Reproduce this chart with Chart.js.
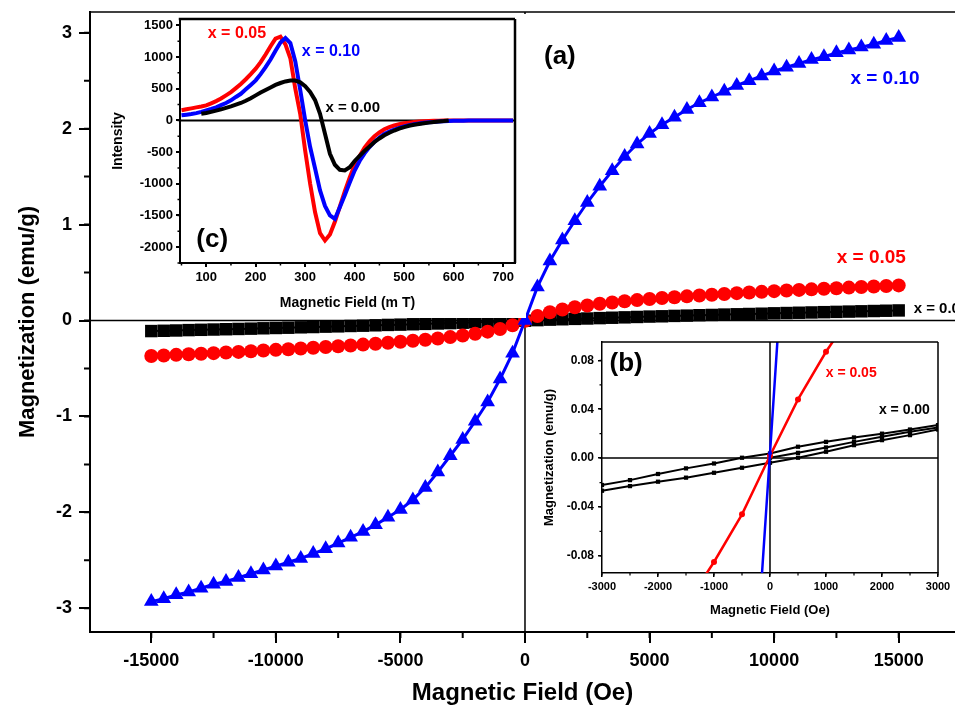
<!DOCTYPE html>
<html>
<head>
<meta charset="utf-8">
<script src="https://cdn.jsdelivr.net/npm/chart.js@4.4.1/dist/chart.umd.min.js"></script>
<style>
  html, body { margin: 0; padding: 0; background: #fff; overflow: hidden; }
  #wrap { position: relative; width: 955px; height: 710px; }
  canvas { position: absolute; }
  #mainChart { left: 0; top: 0; }
  #eprChart { left: 100px; top: 14px; background: #fff; }
  #zoomChart { left: 530px; top: 333px; background: #fff; }
</style>
</head>
<body>
<div id="wrap">
  <canvas id="mainChart" width="955" height="710"></canvas>
  <canvas id="eprChart" width="426" height="304"></canvas>
  <canvas id="zoomChart" width="425" height="297"></canvas>
</div>
<script>
// ---- (a) main M-H loops, field in Oe ----
const mainField = [-15000, -14500, -14000, -13500, -13000, -12500, -12000, -11500, -11000, -10500,
  -10000, -9500, -9000, -8500, -8000, -7500, -7000, -6500, -6000, -5500,
  -5000, -4500, -4000, -3500, -3000, -2500, -2000, -1500, -1000, -500,
  0, 500, 1000, 1500, 2000, 2500, 3000, 3500, 4000, 4500,
  5000, 5500, 6000, 6500, 7000, 7500, 8000, 8500, 9000, 9500,
  10000, 10500, 11000, 11500, 12000, 12500, 13000, 13500, 14000, 14500, 15000];
const magX000 = [-0.110, -0.107, -0.104, -0.100, -0.097, -0.094, -0.091, -0.088, -0.085, -0.081,
  -0.078, -0.075, -0.071, -0.068, -0.064, -0.061, -0.057, -0.054, -0.050, -0.046,
  -0.043, -0.039, -0.035, -0.031, -0.027, -0.023, -0.019, -0.015, -0.011, -0.007,
  -0.002, 0.004, 0.009, 0.013, 0.017, 0.021, 0.025, 0.029, 0.033, 0.037,
  0.041, 0.044, 0.048, 0.051, 0.055, 0.058, 0.062, 0.065, 0.068, 0.071,
  0.075, 0.078, 0.081, 0.084, 0.087, 0.090, 0.093, 0.096, 0.099, 0.102, 0.105];
const magX005 = [-0.370, -0.364, -0.358, -0.352, -0.346, -0.340, -0.334, -0.327, -0.320, -0.313,
  -0.306, -0.299, -0.292, -0.284, -0.276, -0.268, -0.260, -0.251, -0.242, -0.232,
  -0.222, -0.211, -0.200, -0.187, -0.173, -0.157, -0.138, -0.116, -0.088, -0.050,
  -0.003, 0.047, 0.086, 0.115, 0.138, 0.157, 0.174, 0.188, 0.201, 0.213,
  0.224, 0.234, 0.243, 0.252, 0.261, 0.269, 0.277, 0.285, 0.292, 0.299,
  0.306, 0.313, 0.319, 0.325, 0.331, 0.337, 0.343, 0.349, 0.355, 0.360, 0.366];
const magX010 = [-2.93, -2.90, -2.86, -2.83, -2.79, -2.75, -2.72, -2.68, -2.64, -2.60,
  -2.56, -2.52, -2.48, -2.43, -2.38, -2.32, -2.26, -2.20, -2.13, -2.05,
  -1.97, -1.87, -1.74, -1.58, -1.41, -1.24, -1.05, -0.85, -0.61, -0.34,
  0.00, 0.35, 0.62, 0.84, 1.04, 1.23, 1.40, 1.56, 1.71, 1.84,
  1.95, 2.04, 2.12, 2.20, 2.27, 2.33, 2.39, 2.45, 2.50, 2.55,
  2.60, 2.64, 2.68, 2.72, 2.75, 2.79, 2.82, 2.85, 2.88, 2.92, 2.95];
const mainXTicks = [-15000, -10000, -5000, 0, 5000, 10000, 15000];
const mainYTicks = [-3, -2, -1, 0, 1, 2, 3];

// ---- (c) EPR spectra, field in mT ----
const eprField = [50, 60, 70, 80, 90, 100, 110, 120, 130, 140, 150, 160, 170, 180, 190, 200,
  210, 220, 230, 240, 250, 260, 270, 280, 290, 300, 310, 320, 330, 340, 350, 360,
  370, 380, 390, 400, 410, 420, 430, 440, 450, 460, 470, 480, 490, 500, 510, 520,
  530, 540, 550, 560, 570, 580, 590, 600, 610, 620, 630, 640, 650, 660, 670, 680,
  690, 700, 710, 720];
const eprX005 = [160, 175, 190, 205, 220, 237, 270, 305, 345, 395, 447, 510, 575, 650, 730, 816,
  920, 1040, 1170, 1290, 1320, 1200, 980, 500, 100, -480, -1000, -1450, -1780, -1895, -1800, -1600,
  -1360, -1120, -900, -700, -560, -430, -330, -250, -190, -140, -105, -80, -60, -45, -35, -25,
  -18, -12, -8, -5, -4, -3, -2, -2, -1, -1, 0, 0, 0, 0, 0, 0,
  0, 0, 0, 0];
const eprX010 = [80, 90, 100, 115, 135, 158, 180, 205, 240, 275, 316, 370, 420, 490, 560, 632,
  730, 840, 960, 1100, 1230, 1300, 1220, 930, 480, 0, -420, -760, -1105, -1350, -1500, -1555,
  -1370, -1180, -980, -790, -640, -520, -420, -340, -270, -215, -175, -145, -120, -95, -75, -60,
  -48, -38, -30, -25, -18, -14, -10, -7, -5, -4, -3, -2, -1, -1, 0, 0,
  0, 0, 0, 0];
const eprFieldX000 = [90, 100, 110, 120, 130, 140, 150, 160, 170, 180, 190, 200, 210, 220, 230, 240,
  250, 260, 270, 280, 290, 300, 310, 320, 330, 340, 350, 360, 370, 380, 390, 400,
  410, 420, 430, 440, 450, 460, 470, 480, 490, 500, 510, 520, 530, 540, 550, 560,
  570, 580, 590];
const eprX000 = [105, 116, 135, 155, 175, 198, 221, 248, 275, 310, 350, 395, 440, 480, 520, 560,
  590, 615, 630, 628, 600, 540, 450, 320, 105, -210, -526, -700, -780, -790, -740, -640,
  -560, -480, -410, -340, -285, -235, -195, -160, -130, -105, -85, -70, -57, -45, -35, -26,
  -18, -10, 0];
const eprXTicks = [100, 200, 300, 400, 500, 600, 700];
const eprYTicks = [-2000, -1500, -1000, -500, 0, 500, 1000, 1500];

// ---- (b) low-field zoom, field in Oe ----
const lowField = [-3000, -2500, -2000, -1500, -1000, -500, 0, 500, 1000, 1500, 2000, 2500, 3000];
const lowX000Upper = [-0.022, -0.018, -0.013, -0.0084, -0.0044, 0.0003, 0.0038, 0.0093, 0.0133, 0.0169, 0.020, 0.0234, 0.027];
const lowX000Lower = [-0.0267, -0.0229, -0.0193, -0.016, -0.012, -0.0079, -0.0038, 0.0003, 0.0052, 0.0106, 0.0147, 0.0188, 0.0234];
const lowFieldVirgin = [0, 500, 1000, 1500, 2000, 2500, 3000];
const lowX000Virgin = [0.0003, 0.0043, 0.0087, 0.0133, 0.0174, 0.0215, 0.025];
const lowFieldX005 = [-1500, -1000, -500, 0, 500, 1000, 1500];
const lowX005 = [-0.120, -0.085, -0.046, 0.002, 0.048, 0.087, 0.121];
const lowFieldX010 = [-500, 0, 500];
const lowX010 = [-0.34, 0.004, 0.35];
const lowXTicks = [-3000, -2000, -1000, 0, 1000, 2000, 3000];
const lowYTicks = [-0.08, -0.04, 0, 0.04, 0.08];

const FONT = '"Liberation Sans", Arial, Helvetica, sans-serif';
const RED = '#ff0000';
const BLUE = '#0000ff';
const BLACK = '#000000';

Chart.defaults.font.family = FONT;
Chart.defaults.color = '#000';

const pts = (xs, ys) => xs.map((x, i) => ({ x, y: ys[i] }));

function series(xs, ys, color, style, radius, lw) {
  return {
    data: pts(xs, ys), showLine: true, borderColor: color, backgroundColor: color,
    borderWidth: lw, pointStyle: style, pointRadius: radius, pointHoverRadius: radius,
    pointBorderWidth: 0, pointBackgroundColor: color, tension: 0
  };
}

function axis(o) {
  return {
    type: 'linear', min: o.min, max: o.max, bounds: 'data',
    afterBuildTicks: s => { s.ticks = o.ticks.map(v => ({ value: v })); },
    afterFit: s => {
      if (s.isHorizontal()) s.height = o.size; else s.width = o.size;
      s.paddingLeft = s.paddingRight = s.paddingTop = s.paddingBottom = 0;
    },
    grid: { display: true, drawOnChartArea: false, drawTicks: true, tickLength: o.tickLen,
            tickWidth: o.lw, tickColor: '#000', color: '#000', lineWidth: o.lw },
    border: { display: true, color: '#000', width: o.lw },
    ticks: { color: '#000', font: { weight: 'bold', size: o.fs }, padding: o.pad,
             autoSkip: false, maxRotation: 0, callback: o.fmt || (v => String(v)) },
    title: { display: true, text: o.title, color: '#000',
             font: { weight: 'bold', size: o.ts }, padding: o.tpad }
  };
}

// zero lines, closing frame, minor ticks and text labels (config kept in closure)
function makeDecor(o) {
  return {
    id: 'decor',
    beforeDatasetsDraw(chart) {
      const { ctx, chartArea: a, scales: { x, y } } = chart;
      ctx.save();
      ctx.strokeStyle = '#000';
      ctx.lineWidth = o.zeroWidth;
      ctx.beginPath();
      if (o.zeroX) { const px = x.getPixelForValue(0); ctx.moveTo(px, a.top); ctx.lineTo(px, a.bottom); }
      if (o.zeroY) { const py = y.getPixelForValue(0); ctx.moveTo(a.left, py); ctx.lineTo(a.right, py); }
      ctx.stroke();
      ctx.restore();
    },
    afterDraw(chart) {
      const { ctx, chartArea: a, scales: { x, y } } = chart;
      ctx.save();
      ctx.strokeStyle = '#000';
      ctx.lineWidth = o.frameWidth;
      ctx.beginPath();
      if (o.top) { ctx.moveTo(a.left - o.frameWidth / 2, a.top); ctx.lineTo(a.right, a.top); }
      if (o.right) { ctx.moveTo(a.right, a.top); ctx.lineTo(a.right, a.bottom); }
      ctx.stroke();

      ctx.lineWidth = o.minorWidth;
      ctx.beginPath();
      for (let i = Math.ceil(x.min / o.minorX); i * o.minorX <= x.max; i++) {
        const px = x.getPixelForValue(i * o.minorX);
        ctx.moveTo(px, a.bottom); ctx.lineTo(px, a.bottom + o.minorLen);
      }
      for (let i = Math.ceil(y.min / o.minorY); i * o.minorY <= y.max; i++) {
        const py = y.getPixelForValue(i * o.minorY);
        ctx.moveTo(a.left, py); ctx.lineTo(a.left - o.minorLen, py);
      }
      ctx.stroke();

      ctx.textBaseline = 'middle';
      o.labels.forEach(t => {
        ctx.font = `bold ${t.size}px ${FONT}`;
        ctx.fillStyle = t.color;
        ctx.textAlign = t.align || 'center';
        ctx.fillText(t.text, x.getPixelForValue(t.x), y.getPixelForValue(t.y));
      });
      ctx.restore();
    }
  };
}

function baseOptions(padding, scales) {
  return {
    responsive: false, animation: false, devicePixelRatio: 1,
    layout: { padding, autoPadding: false },
    plugins: { legend: { display: false }, tooltip: { enabled: false } },
    scales
  };
}

// (a)
new Chart(document.getElementById('mainChart'), {
  type: 'scatter',
  data: { datasets: [
    series(mainField, magX010, BLUE, 'triangle', 8.5, 3),
    series(mainField, magX005, RED, 'circle', 7, 2),
    series(mainField, magX000, BLACK, 'rect', 8.8, 2)
  ] },
  options: baseOptions({ top: 12, left: 0, right: 0, bottom: 0 }, {
    x: axis({ min: -17460, max: 17260, ticks: mainXTicks, size: 78, tickLen: 11, lw: 2, fs: 18, pad: 7,
              title: 'Magnetic Field (Oe)', ts: 24, tpad: { top: 0, bottom: 2 } }),
    y: axis({ min: -3.247, max: 3.216, ticks: mainYTicks, size: 90, tickLen: 11, lw: 2, fs: 18, pad: 7,
              title: 'Magnetization (emu/g)', ts: 22, tpad: { top: 15, bottom: 0 } })
  }),
  plugins: [makeDecor({
    zeroX: true, zeroY: true, zeroWidth: 1.5, top: true, right: false, frameWidth: 1.5,
    minorX: 2500, minorY: 0.5, minorLen: 6, minorWidth: 2,
    labels: [
      { text: '(a)', x: 1400, y: 2.75, size: 26, color: BLACK },
      { text: 'x = 0.10', x: 14450, y: 2.52, size: 19, color: BLUE },
      { text: 'x = 0.05', x: 13900, y: 0.65, size: 19, color: RED },
      { text: 'x = 0.00', x: 15600, y: 0.125, size: 15, color: BLACK, align: 'left' }
    ]
  })]
});

// (c)
new Chart(document.getElementById('eprChart'), {
  type: 'scatter',
  data: { datasets: [
    series(eprFieldX000, eprX000, BLACK, 'circle', 0, 4),
    series(eprField, eprX010, BLUE, 'circle', 0, 4),
    series(eprField, eprX005, RED, 'circle', 0, 4)
  ] },
  options: baseOptions({ top: 5, left: 0, right: 11, bottom: 0 }, {
    x: axis({ min: 47, max: 724, ticks: eprXTicks, size: 55, tickLen: 4, lw: 2, fs: 13, pad: 3,
              title: 'Magnetic Field (m T)', ts: 14, tpad: { top: 0, bottom: 6 } }),
    y: axis({ min: -2250, max: 1600, ticks: eprYTicks, size: 80, tickLen: 4, lw: 2, fs: 13, pad: 3,
              title: 'Intensity', ts: 14, tpad: { top: 10, bottom: 0 } })
  }),
  plugins: [makeDecor({
    zeroX: false, zeroY: true, zeroWidth: 2, top: true, right: true, frameWidth: 2.5,
    minorX: 50, minorY: 250, minorLen: 2.5, minorWidth: 1.5,
    labels: [
      { text: 'x = 0.05', x: 162, y: 1370, size: 16, color: RED },
      { text: 'x = 0.10', x: 352, y: 1080, size: 16, color: BLUE },
      { text: 'x = 0.00', x: 396, y: 205, size: 15, color: BLACK },
      { text: '(c)', x: 112, y: -1890, size: 26, color: BLACK }
    ]
  })]
});

// (b)
new Chart(document.getElementById('zoomChart'), {
  type: 'scatter',
  data: { datasets: [
    series(lowFieldX010, lowX010, BLUE, 'circle', 2, 2.5),
    series(lowFieldX005, lowX005, RED, 'circle', 3, 2.5),
    series(lowField, lowX000Upper, BLACK, 'rect', 3, 2),
    series(lowField, lowX000Lower, BLACK, 'rect', 3, 2),
    series(lowFieldVirgin, lowX000Virgin, BLACK, 'rect', 3, 2)
  ] },
  options: baseOptions({ top: 9, left: 0, right: 17, bottom: 0 }, {
    x: axis({ min: -3000, max: 3000, ticks: lowXTicks, size: 57, tickLen: 4, lw: 1.5, fs: 11, pad: 3,
              title: 'Magnetic Field (Oe)', ts: 13, tpad: { top: 0, bottom: 12 } }),
    y: axis({ min: -0.094, max: 0.095, ticks: lowYTicks, size: 72, tickLen: 4, lw: 1.5, fs: 12, pad: 4,
              title: 'Magnetization (emu/g)', ts: 13, tpad: { top: 12, bottom: 0 },
              fmt: v => v.toFixed(2) })
  }),
  plugins: [makeDecor({
    zeroX: true, zeroY: true, zeroWidth: 1.5, top: true, right: true, frameWidth: 1.5,
    minorX: 500, minorY: 0.02, minorLen: 2.5, minorWidth: 1.2,
    labels: [
      { text: '(b)', x: -2570, y: 0.0775, size: 26, color: BLACK },
      { text: 'x = 0.05', x: 1450, y: 0.0696, size: 14, color: RED },
      { text: 'x = 0.00', x: 2400, y: 0.039, size: 14, color: BLACK }
    ]
  })]
});
</script>
</body>
</html>
